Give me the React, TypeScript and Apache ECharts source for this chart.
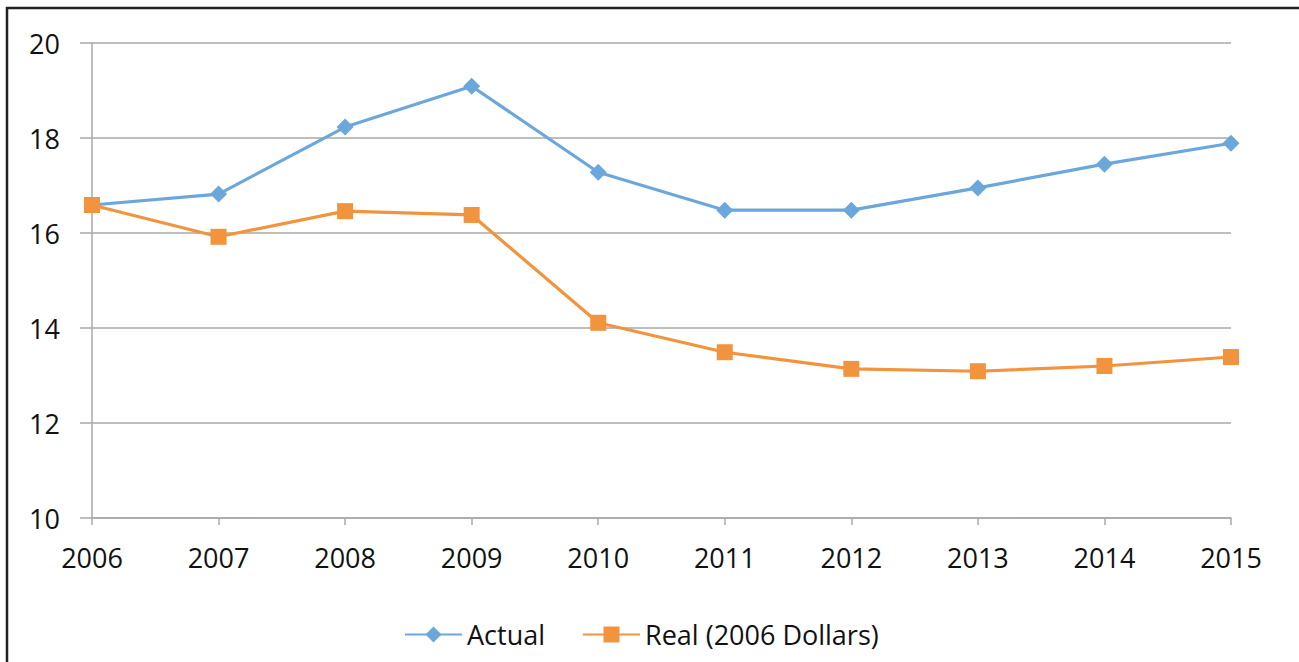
import React, { useEffect, useRef } from "react";
import * as echarts from "echarts";

const years = ["2006", "2007", "2008", "2009", "2010", "2011", "2012", "2013", "2014", "2015"];
const actual = [16.59, 16.82, 18.23, 19.09, 17.28, 16.48, 16.48, 16.95, 17.45, 17.89];
const real = [16.59, 15.92, 16.46, 16.38, 14.11, 13.49, 13.14, 13.09, 13.2, 13.39];

const BLUE = "#6BA7DB";
const ORANGE = "#F1943D";
const GRID = "#A8A8A8";
const FONT = "'Open Sans', sans-serif";

export default function App() {
  const ref = useRef<HTMLDivElement>(null);
  useEffect(() => {
    if (!ref.current) return;
    const chart = echarts.init(ref.current, null, { renderer: "svg" });
    chart.setOption({
      animation: false,
      backgroundColor: "#ffffff",
      textStyle: { fontFamily: FONT },
      graphic: [
        {
          type: "rect",
          shape: { x: 7, y: 8, width: 1400, height: 800 },
          style: { fill: "none", stroke: "#222", lineWidth: 2.5 },
          silent: true,
        },
      ],
      grid: { left: 92, right: 68, top: 43, bottom: 144, containLabel: false },
      xAxis: {
        type: "category",
        data: years,
        boundaryGap: false,
        axisLine: { show: true, lineStyle: { color: GRID, width: 1.5 } },
        axisTick: { show: true, length: 7, lineStyle: { color: GRID, width: 1.5 } },
        axisLabel: { color: "#111", fontSize: 27, fontFamily: FONT, margin: 26 },
        splitLine: { show: false },
      },
      yAxis: {
        type: "value",
        min: 10,
        max: 20,
        interval: 2,
        axisLine: { show: true, lineStyle: { color: GRID, width: 1.5 } },
        axisTick: { show: true, length: 12, lineStyle: { color: GRID, width: 1.5 } },
        axisLabel: { color: "#111", fontSize: 27, fontFamily: FONT, margin: 32 },
        splitLine: { show: true, lineStyle: { color: GRID, width: 1.5 } },
      },
      legend: {
        bottom: 9,
        left: 399,
        itemWidth: 57,
        itemHeight: 20,
        itemGap: 37,
        textStyle: { color: "#111", fontSize: 27, fontFamily: FONT },
        data: ["Actual", "Real (2006 Dollars)"],
      },
      series: [
        {
          name: "Actual",
          type: "line",
          data: actual,
          symbol: "diamond",
          symbolSize: 17,
          lineStyle: { color: BLUE, width: 3.2 },
          itemStyle: { color: BLUE },
          z: 3,
        },
        {
          name: "Real (2006 Dollars)",
          type: "line",
          data: real,
          symbol: "rect",
          symbolSize: 16,
          lineStyle: { color: ORANGE, width: 3.2 },
          itemStyle: { color: ORANGE },
          z: 4,
        },
      ],
    });
    return () => chart.dispose();
  }, []);
  return (
    <div
      ref={ref}
      style={{ position: "fixed", left: 0, top: 0, width: 1299, height: 662 }}
    />
  );
}
